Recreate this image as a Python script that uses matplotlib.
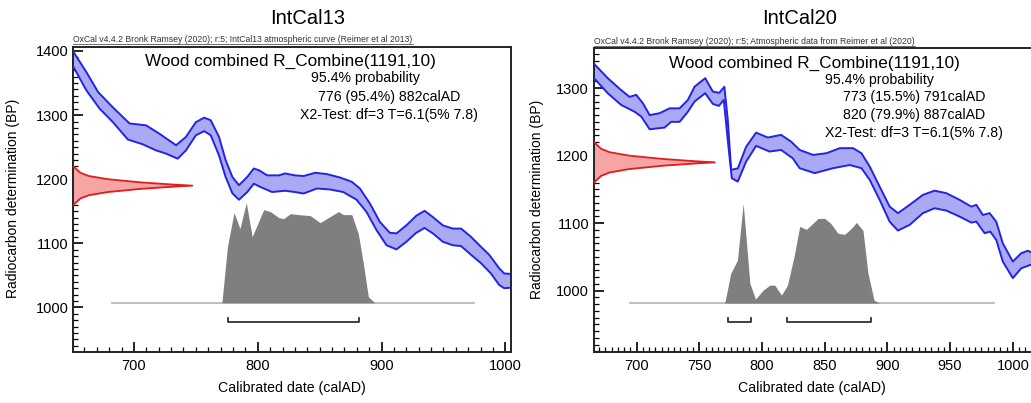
"""
OxCal calibration of the combined wood date against IntCal13 and IntCal20
"""

import matplotlib
matplotlib.use('Agg')
import matplotlib.pyplot as plt
from matplotlib.transforms import blended_transform_factory
from matplotlib.ticker import MultipleLocator

plt.rcParams.update({
    'font.family': ['Liberation Sans', 'DejaVu Sans'],
    'font.size': 10,
})

BLUE = '#2323e6'
BLUE_FILL = '#aaaaf4'
RED = '#e01e1e'
RED_FILL = '#f6a4a4'
GREY = '#7f7f7f'
BASE_GREY = '#b4b4b4'

# radiocarbon likelihood R_Combine(1191,10), relative height
lik_bp = [1160, 1165, 1170, 1175, 1180, 1185, 1188.5, 1190, 1191.5, 1195, 1200, 1205, 1210, 1215, 1220]
lik_rel = [0.0, 0.03, 0.06, 0.13, 0.29, 0.57, 0.85, 1.0, 0.85, 0.57, 0.29, 0.13, 0.06, 0.03, 0.0]

# ---- IntCal13 curve (upper / lower 1-sigma envelope)
ic13_up_x = [650, 661.6, 671, 683, 696.4, 709.8, 720.5, 734, 742, 750, 756.7, 762, 768.7, 774,
             779.5, 784.8, 791.5, 796.8, 800.9, 807.6, 817, 822, 830, 837, 846.4, 855.8, 866.5,
             875.9, 882.5, 890.6, 898.6, 906.6, 912, 920, 928, 934.7, 941.4, 949.5, 957.5, 964.2,
             972.3, 979, 987, 995, 999, 1006]
ic13_up_bp = [1402, 1367, 1336, 1312, 1287, 1284, 1271, 1253, 1266, 1289, 1296, 1292, 1266, 1230,
              1203.5, 1190.6, 1203.6, 1216.7, 1214, 1206, 1206, 1209, 1206, 1205, 1210, 1208, 1202.6,
              1196, 1185.5, 1162, 1133.5, 1116.4, 1115.5, 1128, 1143, 1150.7, 1141, 1128, 1123, 1123,
              1110, 1097, 1082, 1061, 1053, 1052]
ic13_lo_x = [650, 661.6, 672.3, 683, 695, 707, 717.8, 725.8, 735.3, 742, 750, 756.7, 762, 768.7,
             774, 779.5, 784.8, 791.5, 796.8, 802, 811.5, 822, 830, 837, 847.8, 858.4, 869, 879.8,
             887.8, 895.9, 904, 912, 920, 928, 934.7, 941.4, 949.5, 957.5, 964.2, 972.3, 980.3,
             988.3, 995, 999, 1006]
ic13_lo_bp = [1379, 1338.5, 1310, 1289, 1262, 1254.5, 1245, 1240, 1232, 1245, 1268.5, 1275, 1268.5,
              1237, 1203.6, 1178, 1168, 1180, 1193, 1188, 1180, 1182, 1180, 1177.7, 1185.5, 1184,
              1180, 1168, 1149, 1120.6, 1097, 1090.5, 1102.4, 1116.4, 1124, 1115.5, 1102.4, 1097,
              1095.7, 1082, 1069, 1053, 1035, 1030, 1031]

# posterior (relative probability) on IntCal13
post13_x = [771, 775.5, 780.8, 785.6, 790.7, 795.5, 804.8, 810.2, 816.9, 820.9, 826.3, 833, 842.4,
            850.4, 857, 865.2, 869.2, 875.9, 881.2, 885.3, 889.3, 894.6]
post13_p = [0.0, 0.56, 0.90, 0.74, 1.00, 0.66, 0.93, 0.91, 0.85, 0.84, 0.89, 0.88, 0.87,
            0.80, 0.85, 0.91, 0.88, 0.88, 0.69, 0.39, 0.06, 0.0]
base13 = (682, 975)
range13 = [(776, 882)]

# ---- IntCal20 curve
ic20_up_x = [664, 677, 687.7, 694.4, 699.7, 705, 710.4, 718.3, 726.3, 734.3, 740.9, 746.2, 754.7,
             760.8, 766, 770, 772.7, 775.4, 780.7, 787.3, 795.3, 804.6, 815.2, 823.2, 830, 840.7,
             851.4, 862, 872.6, 879.3, 885.9, 893.8, 901.8, 908.4, 917.7, 928.3, 937.6, 947,
             957.6, 966.9, 970.9, 976.1, 981.5, 986.8, 992, 1000, 1006.7, 1012, 1020]
ic20_up_bp = [1340, 1314.7, 1297, 1287, 1290, 1277.6, 1260, 1262.8, 1270, 1270, 1282.5, 1302, 1314.7,
              1294.8, 1293, 1302, 1253, 1179, 1181, 1213, 1234, 1226.7, 1230.7, 1220.7, 1208.4, 1201,
              1203.5, 1211, 1211, 1203.5, 1183.7, 1154, 1124.4, 1114.7, 1127, 1141.8, 1148, 1144.3,
              1134.4, 1124.4, 1127, 1112, 1114.7, 1102, 1070, 1043, 1055.4, 1059, 1052]
ic20_lo_x = [664, 677, 687.7, 698.4, 703.7, 710.4, 722.3, 727.6, 734.3, 740.9, 746.2, 754.7, 760.8,
             765.6, 769.5, 772.7, 775.9, 780.7, 787.3, 795.3, 806, 815.2, 824.5, 830, 842, 856.6,
             870, 879.3, 885.9, 893.8, 901.8, 908.4, 917.7, 928.3, 937.6, 947, 957.6, 966.9, 970.9,
             977.5, 982, 986.8, 992, 1000, 1006.7, 1014, 1020]
ic20_lo_bp = [1319, 1292.4, 1275, 1265, 1257.8, 1239, 1241.5, 1250, 1250, 1265, 1280, 1292.4, 1276.6,
              1273.6, 1282.5, 1223, 1166.5, 1161.5, 1191, 1214.4, 1206, 1208.4, 1196, 1181.3, 1174,
              1181.3, 1186, 1181.3, 1164, 1134.4, 1102, 1088.9, 1097.3, 1114.7, 1122, 1118.5, 1109.6,
              1100.7, 1102.2, 1085, 1087.4, 1075, 1043, 1018.4, 1033, 1038, 1035]

post20_x = [770.3, 775.1, 780.4, 785, 790.3, 794.8, 800.9, 806.2, 810.2, 815.5, 820.3, 825.6, 830.1,
            835.4, 844.7, 850, 854.8, 860.6, 865.9, 871.3, 875.3, 880.5, 884.5, 889.3, 893.5]
post20_p = [0.0, 0.30, 0.43, 1.0, 0.20, 0.04, 0.13, 0.18, 0.18, 0.08, 0.18, 0.47, 0.77,
            0.74, 0.85, 0.85, 0.80, 0.70, 0.69, 0.75, 0.81, 0.73, 0.30, 0.03, 0.0]
base20 = (695, 985)
range20 = [(773, 791), (820, 887)]

panels = [
    dict(title='IntCal13',
         header='OxCal v4.4.2 Bronk Ramsey (2020); r:5; IntCal13 atmospheric curve (Reimer et al 2013)',
         rect=[0.0711, 0.1266, 0.4245, 0.758], xlim=(651, 1004.5), ylim=(930.5, 1407),
         xmaj=100, xmin=10, up=(ic13_up_x, ic13_up_bp), lo=(ic13_lo_x, ic13_lo_bp),
         post=(post13_x, post13_p), base=base13, ranges=range13,
         lines=['95.4% probability', '776 (95.4%) 882calAD'],
         title_x=0.298, xlab=(0.50, -0.094), ylab=(-0.122, 0.502), prob_x=0.668),
    dict(title='IntCal20',
         header='OxCal v4.4.2 Bronk Ramsey (2020); r:5; Atmospheric data from Reimer et al (2020)',
         rect=[0.5761, 0.1266, 0.4306, 0.7536], xlim=(666, 1020), ylim=(909, 1359),
         xmaj=50, xmin=5, up=(ic20_up_x, ic20_up_bp), lo=(ic20_lo_x, ic20_lo_bp),
         post=(post20_x, post20_p), base=base20, ranges=range20,
         lines=['95.4% probability', '773 (15.5%) 791calAD', '820 (79.9%) 887calAD'],
         title_x=0.776, xlab=(0.491, -0.094), ylab=(-0.112, 0.502), prob_x=0.643),
]

fig = plt.figure(figsize=(10.31, 4.03), dpi=100)
headers = []

for p in panels:
    ax = fig.add_axes(p['rect'])
    ax.set_xlim(*p['xlim'])
    ax.set_ylim(*p['ylim'])

    # calibration curve band
    ux, ub = p['up']
    lx, lb = p['lo']
    ax.fill(list(ux) + lx[::-1], list(ub) + lb[::-1], color=BLUE_FILL, lw=0, zorder=2)
    ax.plot(ux, ub, color=BLUE, lw=1.4, zorder=3)
    ax.plot(lx, lb, color=BLUE, lw=1.4, zorder=3)

    # radiocarbon likelihood on the y axis
    tr_y = blended_transform_factory(ax.transAxes, ax.transData)
    lik_w = [r * 0.272 for r in lik_rel]
    ax.fill_betweenx(lik_bp, 0, lik_w, transform=tr_y, color=RED_FILL, lw=0, zorder=2)
    ax.plot(lik_w, lik_bp, transform=tr_y, color=RED, lw=1.3, zorder=3)

    # calibrated distribution
    tr_x = blended_transform_factory(ax.transData, ax.transAxes)
    px, pp = p['post']
    ax.plot(p['base'], [0.161, 0.161], transform=tr_x, color=BASE_GREY, lw=1.2, zorder=2)
    ax.fill_between(px, 0.161, [0.161 + v * 0.328 for v in pp], transform=tr_x,
                    color=GREY, lw=0, zorder=3)

    # 95.4% ranges
    for a, b in p['ranges']:
        ax.plot([a, a, b, b], [0.112, 0.098, 0.098, 0.112], transform=tr_x,
                color='#333333', lw=1.3, zorder=3)

    # ticks and frame
    ax.xaxis.set_major_locator(MultipleLocator(p['xmaj']))
    ax.xaxis.set_minor_locator(MultipleLocator(p['xmin']))
    ax.yaxis.set_major_locator(MultipleLocator(100))
    ax.yaxis.set_minor_locator(MultipleLocator(10))
    ax.tick_params(which='major', direction='in', length=7, width=1.2, labelsize=10.5, pad=5)
    ax.tick_params(which='minor', direction='in', length=3.5, width=0.9)
    ax.tick_params(axis='y', pad=3.5)
    for s in ax.spines.values():
        s.set_linewidth(1.4)
        s.set_color('#222222')

    ax.set_xlabel('Calibrated date (calAD)', fontsize=10.2)
    ax.xaxis.set_label_coords(*p['xlab'])
    ax.set_ylabel('Radiocarbon determination (BP)', fontsize=10)
    ax.yaxis.set_label_coords(*p['ylab'])

    # annotations
    ax.text(0.497, 0.951, 'Wood combined R_Combine(1191,10)', transform=ax.transAxes,
            ha='center', va='center', fontsize=12.3)
    rows = p['lines'] + ['X2-Test: df=3 T=6.1(5% 7.8)']
    ys = [0.896, 0.839, 0.780, 0.720] if len(rows) == 4 else [0.896, 0.836, 0.776]
    xs = [p['prob_x']] + [0.721] * (len(rows) - 2) + [0.721]
    for t, x, y in zip(rows, xs, ys):
        ax.text(x, y, t, transform=ax.transAxes, ha='center', va='center', fontsize=10.2)

    headers.append(ax.text(0.0, 1.008, p['header'], transform=ax.transAxes,
                           ha='left', va='bottom', fontsize=6.2, color='#333333'))
    fig.text(p['title_x'], 0.955, p['title'], ha='center', va='center', fontsize=14.5)

# underline the header lines
fig.canvas.draw()
inv = fig.transFigure.inverted()
for h in headers:
    bb = h.get_window_extent()
    (x0, y0), (x1, _) = inv.transform([[bb.x0, bb.y0], [bb.x1, bb.y1]])
    fig.add_artist(plt.Line2D([x0, x1], [y0 - 0.001, y0 - 0.001], transform=fig.transFigure,
                              color='#333333', lw=0.5))

fig.savefig('out.png', dpi=100)
